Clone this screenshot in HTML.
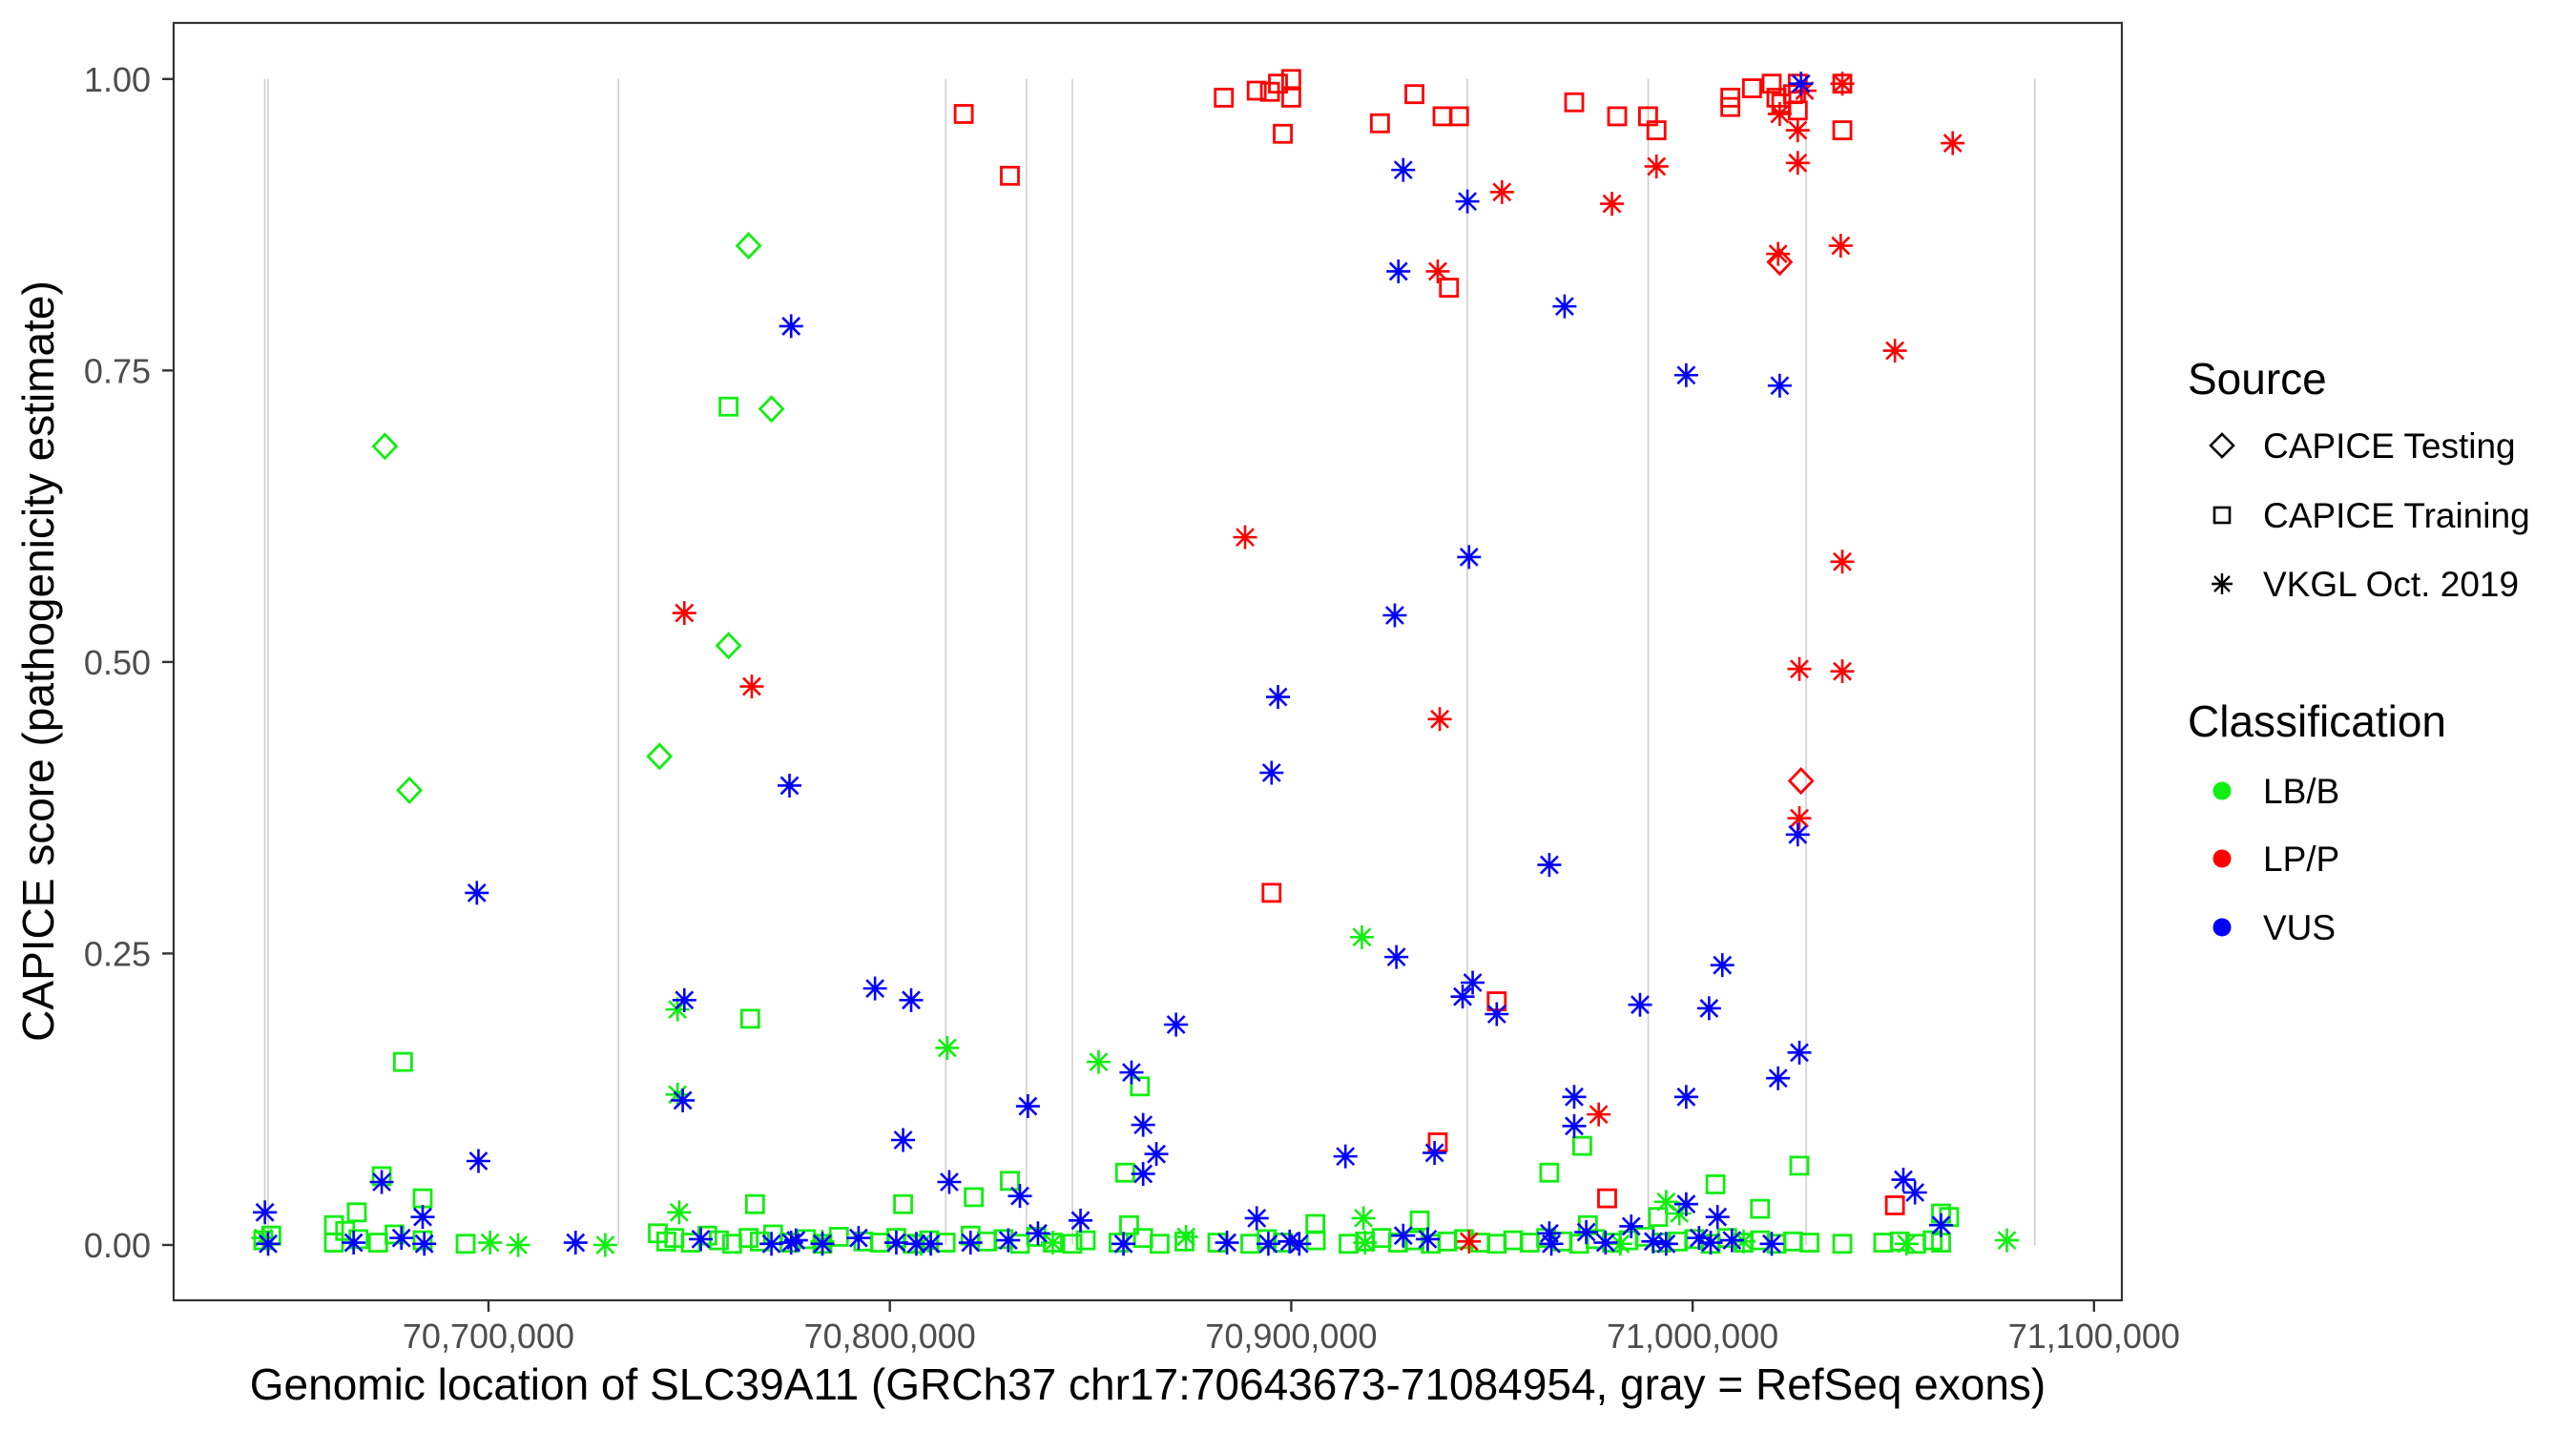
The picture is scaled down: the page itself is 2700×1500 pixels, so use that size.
<!DOCTYPE html>
<html><head><meta charset="utf-8"><style>
html,body{margin:0;padding:0;background:#fff;}
svg{display:block;font-family:"Liberation Sans",Arial,sans-serif;}
</style></head><body>
<svg id="chart" width="2700" height="1500" viewBox="0 0 2700 1500">
  <rect x="0" y="0" width="2700" height="1500" fill="#fff"/>
  <g id="exons"></g>
  <g id="points"></g>
  <rect x="182" y="24" width="2042" height="1339" fill="none" stroke="#333" stroke-width="2.2"/>
  <g id="yaxis"></g>
  <g id="xaxis"></g>
  <text x="1203" y="1467" font-size="46" text-anchor="middle" fill="#000">Genomic location of SLC39A11 (GRCh37 chr17:70643673-71084954, gray = RefSeq exons)</text>
  <text transform="translate(56,693) rotate(-90)" font-size="46" text-anchor="middle" fill="#000">CAPICE score (pathogenicity estimate)</text>
  <g id="legend">
    <text x="2293" y="413" font-size="46" fill="#000">Source</text>
    <g>
      <path d="M2329,455 L2341,467 L2329,479 L2317,467 Z" fill="none" stroke="#000" stroke-width="2.6"/>
      <text x="2372" y="480" font-size="37">CAPICE Testing</text>
    </g>
    <g>
      <rect x="2321" y="532" width="16" height="16" fill="none" stroke="#000" stroke-width="2.6"/>
      <text x="2372" y="553" font-size="37">CAPICE Training</text>
    </g>
    <g>
      <path d="M2329,601V623M2318,612H2340M2321,604L2337,620M2321,620L2337,604" stroke="#000" stroke-width="2.4"/>
      <text x="2372" y="625" font-size="37">VKGL Oct. 2019</text>
    </g>
    <text x="2293" y="772" font-size="46" fill="#000">Classification</text>
    <g>
      <circle cx="2329" cy="829" r="9.5" fill="#11ee11"/>
      <text x="2372" y="842" font-size="37">LB/B</text>
    </g>
    <g>
      <circle cx="2329" cy="900" r="9.5" fill="#ff0000"/>
      <text x="2372" y="913" font-size="37">LP/P</text>
    </g>
    <g>
      <circle cx="2329" cy="972" r="9.5" fill="#0000ff"/>
      <text x="2372" y="985" font-size="37">VUS</text>
    </g>
  </g>
</svg>
<script>
// ---- data (positions in kb, scores 0..1) ----
const exonPositions = [70644.26, 70645.08, 70732.38, 70813.93, 70834.02, 70845.49, 70943.85, 70988.93, 71028.28, 71085.25];
const xTickValues = [70700, 70800, 70900, 71000, 71100];
const xTickLabels = ["70,700,000", "70,800,000", "70,900,000", "71,000,000", "71,100,000"];
const yTickValues = [0, 0.25, 0.5, 0.75, 1];
const yTickLabels = ["0.00", "0.25", "0.50", "0.75", "1.00"];

// LB/B testing (diamond)
const bTestPos = [70674.2, 70764.8, 70770.5, 70759.8, 70742.6, 70680.3];
const bTestScore = [0.685, 0.857, 0.717, 0.514, 0.419, 0.390];
// LP/P testing
const pTestPos = [71021.7, 71027.0];
const pTestScore = [0.843, 0.398];
// LB/B training (square)
const bTrainPos = [70759.8, 70678.7, 70765.2, 70862.3, 70858.6, 70964.3, 70972.5, 71005.7, 71026.6, 70673.4, 70667.2, 70683.6, 70829.9, 70803.3, 70766.4, 70820.9, 70906, 70973.9, 71016.8, 71063.9, 71061.9, 70932, 70859.6, 70991.4, 70661.5,
  70643.9, 70645.9, 70661.5, 70664.3, 70667.6, 70672.5, 70676.6, 70683.6, 70694.3, 70742.2, 70744.3, 70746.3, 70750.4, 70754.5, 70757.4, 70760.7, 70764.8, 70767.6, 70770.9, 70775, 70779.1, 70783.2, 70787.3, 70793.4, 70797.5, 70801.6, 70805.7, 70809.8, 70813.9, 70820.1, 70824.2, 70828.3, 70832.4, 70836.5, 70840.6, 70845.5, 70848.8, 70857, 70863.1, 70867.2, 70873.4, 70881.6, 70889.8, 70893.9, 70897.9, 70906.1, 70914.3, 70918.4, 70922.5, 70926.6, 70930.7, 70934.8, 70938.9, 70943, 70947.1, 70951.2, 70955.3, 70959.4, 70963.5, 70967.6, 70971.7, 70975.8, 70979.9, 70984, 70988.1, 70992.2, 70996.3, 71000.4, 71004.5, 71008.6, 71012.7, 71016.8, 71020.9, 71025, 71029.1, 71037.3, 71047.5, 71051.6, 71055.7, 71059.8, 71061.9];
const bTrainScore = [0.719, 0.157, 0.194, 0.136, 0.062, 0.062, 0.085, 0.052, 0.068, 0.059, 0.028, 0.040, 0.055, 0.035, 0.035, 0.041, 0.018, 0.017, 0.031, 0.024, 0.027, 0.021, 0.017, 0.024, 0.017,
  0.004, 0.008, 0.002, 0.012, 0.005, 0.002, 0.009, 0.004, 0.001, 0.010, 0.003, 0.006, 0.002, 0.008, 0.004, 0.001, 0.006, 0.003, 0.009, 0.002, 0.005, 0.001, 0.007, 0.003, 0.002, 0.006, 0.001, 0.004, 0.002, 0.008, 0.003, 0.005, 0.001, 0.007, 0.002, 0.001, 0.004, 0.002, 0.006, 0.001, 0.003, 0.002, 0.001, 0.005, 0.002, 0.004, 0.001, 0.003, 0.006, 0.002, 0.004, 0.001, 0.003, 0.005, 0.002, 0.001, 0.004, 0.002, 0.006, 0.003, 0.001, 0.005, 0.002, 0.004, 0.007, 0.002, 0.003, 0.005, 0.001, 0.006, 0.002, 0.004, 0.001, 0.003, 0.002, 0.001, 0.002, 0.003, 0.001, 0.004, 0.002];
// LP/P training
const pTrainPos = [70883.2, 70891.4, 70896.7, 70900, 70900, 70894.7, 70897.9, 70818.4, 70829.9, 70922.1, 70930.7, 70937.7, 70941.8, 70970.5, 70981.2, 70988.9, 70991, 71009.4, 71009.4, 71014.8, 71019.7, 71020.9, 71022.1, 71025, 71026.2, 71026.2, 71037.3, 71037.3, 70939.3, 70895.1, 70951.2, 70936.5, 70978.7, 71050.4];
const pTrainScore = [0.984, 0.990, 0.996, 1.0, 0.984, 0.989, 0.953, 0.970, 0.917, 0.962, 0.987, 0.968, 0.968, 0.980, 0.968, 0.968, 0.956, 0.984, 0.976, 0.992, 0.996, 0.984, 0.979, 0.987, 0.973, 0.996, 0.996, 0.956, 0.821, 0.302, 0.209, 0.088, 0.040, 0.034];
// LB/B VKGL (asterisk)
const bVkglPos = [70917.6, 70814.3, 70852, 70747.1, 70747.1, 70747.5, 70918, 70993.4, 70996.7, 70643.9, 70700.4, 70707.4, 70729.1, 70783.2, 70807.8, 70840.6, 70873.8, 70918.4, 70982, 71012.7, 71053.3, 71078.3];
const bVkglScore = [0.264, 0.169, 0.157, 0.202, 0.129, 0.028, 0.023, 0.037, 0.027, 0.006, 0.002, 0.0, 0.0, 0.003, 0.001, 0.002, 0.007, 0.002, 0.001, 0.003, 0.001, 0.004];
// LP/P VKGL
const pVkglPos = [70748.8, 70765.6, 70888.5, 70936.5, 70952.5, 70979.9, 70991, 70937, 71021.3, 71026.2, 71026.2, 71021.7, 71037.3, 71036.9, 71064.8, 71050.4, 71037.3, 71026.6, 71037.3, 71026.6, 70976.6, 70944.3, 71027.9];
const pVkglScore = [0.542, 0.479, 0.607, 0.835, 0.903, 0.893, 0.925, 0.451, 0.850, 0.956, 0.928, 0.970, 0.996, 0.857, 0.945, 0.767, 0.586, 0.494, 0.492, 0.366, 0.112, 0.003, 0.990];
// VUS VKGL
const uVkglPos = [70775.4, 70775, 70697.1, 70697.5, 70748.8, 70748.4, 70796.3, 70805.3, 70803.3, 70814.8, 70834.4, 70832.4, 70847.5, 70860.2, 70871.3, 70863.1, 70866.4, 70863.1, 70673.4, 70644.3, 70683.6, 70927.9, 70926.7, 70943.9, 70968.1, 70998.4, 71021.7, 71027, 70944.3, 70925.8, 70896.7, 70895.1, 70964.3, 70926.2, 71007.4, 70945.2, 70942.7, 70951.2, 70986.9, 71004.1, 71026.6, 71021.3, 70998.4, 70970.5, 70970.5, 70913.5, 70935.7, 71026.2, 71052.5, 71055.4, 71061.9, 70891.4, 70998.4, 71006.2, 70984.7, 70973.5, 70964.3,
  70645.1, 70666.4, 70678.3, 70684, 70721.7, 70752.9, 70770.5, 70775.4, 70776.6, 70783.2, 70792.2, 70801.6, 70806.6, 70810.2, 70820.1, 70829.5, 70836.9, 70858.2, 70884, 70894.3, 70899.6, 70902, 70927.9, 70934, 70964.8, 70978.3, 70990.2, 70993.4, 71001.6, 71004.5, 71009.8, 71019.7];
const uVkglScore = [0.788, 0.394, 0.302, 0.072, 0.210, 0.124, 0.220, 0.210, 0.090, 0.054, 0.119, 0.042, 0.021, 0.148, 0.189, 0.103, 0.078, 0.061, 0.054, 0.028, 0.024, 0.922, 0.835, 0.895, 0.805, 0.746, 0.737, 0.996, 0.590, 0.540, 0.470, 0.405, 0.326, 0.247, 0.240, 0.225, 0.213, 0.198, 0.206, 0.203, 0.165, 0.143, 0.127, 0.127, 0.102, 0.076, 0.079, 0.352, 0.056, 0.045, 0.017, 0.023, 0.035, 0.024, 0.016, 0.011, 0.010,
  0.001, 0.002, 0.006, 0.001, 0.002, 0.005, 0.001, 0.002, 0.004, 0.001, 0.006, 0.002, 0.001, 0.001, 0.002, 0.004, 0.010, 0.001, 0.002, 0.001, 0.003, 0.001, 0.008, 0.005, 0.001, 0.002, 0.003, 0.001, 0.006, 0.002, 0.004, 0.001];

// ---- scales ----
const NS = "http://www.w3.org/2000/svg";
function xScale(kb) { return 512 + (kb - 70700) * 4.207; }
function yScale(s) { return 1305 - s * 1222.2; }
const GREEN = "#11ee11", RED = "#ff0000", BLUE = "#0000ff";

const exG = document.getElementById("exons");
exonPositions.forEach(function (p) {
  const l = document.createElementNS(NS, "line");
  
  
  const x = xScale(p);
  l.setAttribute("x1", x); l.setAttribute("x2", x);
  l.setAttribute("y1", yScale(1)); l.setAttribute("y2", yScale(0));
  l.setAttribute("stroke", "#cfcfcf"); l.setAttribute("stroke-width", "1.6");
  exG.appendChild(l);
});

const ptG = document.getElementById("points");
function drawSeries(pos, score, shape, color, name) {
  for (let i = 0; i < pos.length; i++) {
    const x = xScale(pos[i]), y = yScale(score[i]);
    let el;
    if (shape === "square") {
      el = document.createElementNS(NS, "rect");
      el.setAttribute("x", x - 9); el.setAttribute("y", y - 9);
      el.setAttribute("width", 18); el.setAttribute("height", 18);
      el.setAttribute("fill", "none");
    } else if (shape === "diamond") {
      el = document.createElementNS(NS, "path");
      el.setAttribute("d", "M" + x + "," + (y - 12.5) + "L" + (x + 12) + "," + y + "L" + x + "," + (y + 12.5) + "L" + (x - 12) + "," + y + "Z");
      el.setAttribute("fill", "none");
    } else {
      el = document.createElementNS(NS, "path");
      const r = 12.5, d = 9;
      el.setAttribute("d", "M" + x + "," + (y - r) + "V" + (y + r) + "M" + (x - r) + "," + y + "H" + (x + r) +
        "M" + (x - d) + "," + (y - d) + "L" + (x + d) + "," + (y + d) + "M" + (x - d) + "," + (y + d) + "L" + (x + d) + "," + (y - d));
    }
    
    
    el.setAttribute("stroke", color);
    el.setAttribute("stroke-width", shape === "asterisk" ? "2.6" : "2.8");
    ptG.appendChild(el);
  }
}
drawSeries(bTrainPos, bTrainScore, "square", GREEN, "point-lbb-training");
drawSeries(bVkglPos, bVkglScore, "asterisk", GREEN, "point-lbb-vkgl");
drawSeries(bTestPos, bTestScore, "diamond", GREEN, "point-lbb-testing");
drawSeries(pTrainPos, pTrainScore, "square", RED, "point-lpp-training");
drawSeries(pVkglPos, pVkglScore, "asterisk", RED, "point-lpp-vkgl");
drawSeries(pTestPos, pTestScore, "diamond", RED, "point-lpp-testing");
drawSeries(uVkglPos, uVkglScore, "asterisk", BLUE, "point-vus-vkgl");

// ---- axes ----
const yG = document.getElementById("yaxis");
yTickValues.forEach(function (v, i) {
  const y = yScale(v);
  const t = document.createElementNS(NS, "line");
  
  
  t.setAttribute("x1", 170); t.setAttribute("x2", 182); t.setAttribute("y1", y); t.setAttribute("y2", y);
  t.setAttribute("stroke", "#333"); t.setAttribute("stroke-width", "2.4");
  yG.appendChild(t);
  const lab = document.createElementNS(NS, "text");
  
  
  lab.setAttribute("x", 158); lab.setAttribute("y", y + 13);
  lab.setAttribute("text-anchor", "end"); lab.setAttribute("font-size", "36"); lab.setAttribute("fill", "#4d4d4d");
  lab.textContent = yTickLabels[i];
  yG.appendChild(lab);
});
const xG = document.getElementById("xaxis");
xTickValues.forEach(function (v, i) {
  const x = xScale(v);
  const t = document.createElementNS(NS, "line");
  
  
  t.setAttribute("x1", x); t.setAttribute("x2", x); t.setAttribute("y1", 1363); t.setAttribute("y2", 1375);
  t.setAttribute("stroke", "#333"); t.setAttribute("stroke-width", "2.4");
  xG.appendChild(t);
  const lab = document.createElementNS(NS, "text");
  
  
  lab.setAttribute("x", x); lab.setAttribute("y", 1413);
  lab.setAttribute("text-anchor", "middle"); lab.setAttribute("font-size", "36"); lab.setAttribute("fill", "#4d4d4d");
  lab.textContent = xTickLabels[i];
  xG.appendChild(lab);
});
</script>
</body></html>
